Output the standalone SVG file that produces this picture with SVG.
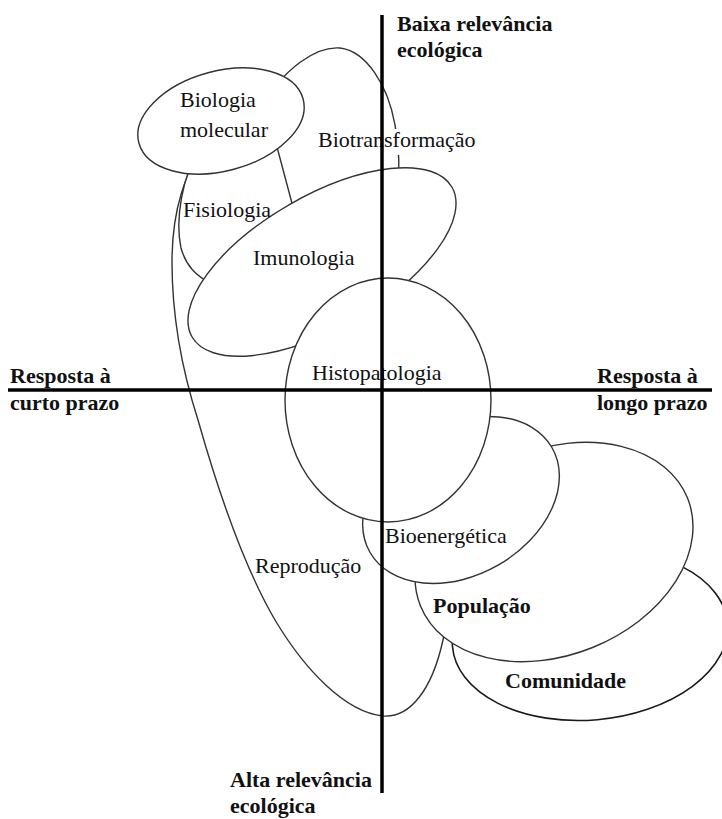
<svg xmlns="http://www.w3.org/2000/svg" width="722" height="819" viewBox="0 0 722 819">
<style>
.sh{fill:#fff;stroke:#333;stroke-width:1.4}
.dk{fill:#fff;stroke:#1a1a1a;stroke-width:1.6}
.t{font-family:"Liberation Serif","Times New Roman",serif;font-size:22px;fill:#111}
.b{font-family:"Liberation Serif","Times New Roman",serif;font-size:22px;font-weight:bold;fill:#111}
.ax{stroke:#000;stroke-width:3.5;fill:none}
</style>
<rect width="722" height="819" fill="#fff"/>
<g id="reproducao">
<path class="sh" d="M205,150 C186,168 172,210 172,262 C172,320 182,370 198,420 C215,480 240,560 275,620 C305,670 345,712 383,716 C410,718 432,690 443,640 C455,590 452,520 430,460 C400,370 300,200 205,150 Z"/>
</g>
<g id="comunidade">
<ellipse class="dk" cx="590" cy="635" rx="138" ry="85" transform="rotate(-5 590 635)"/>
</g>
<g id="biotransformacao">
<path class="sh" d="M255,115 C285,65 318,46 340,48 C366,51 388,85 395,125 C400,150 399,170 398,190 L330,230 L265,200 Z"/>
</g>
<g id="fisiologia">
<path class="sh" d="M200,150 C182,175 175,220 181,248 C186,266 196,276 212,284 L300,240 L293,207 L277,147 Z"/>
</g>
<g id="biologia-molecular">
<ellipse class="sh" cx="221" cy="121" rx="85" ry="50" transform="rotate(-15 221 121)"/>
</g>
<g id="imunologia">
<ellipse class="sh" cx="322" cy="262" rx="150" ry="66" transform="rotate(-30 322 262)"/>
</g>
<g id="populacao">
<ellipse class="sh" cx="554" cy="552" rx="144" ry="103" transform="rotate(-22 554 552)"/>
</g>
<g id="bioenergetica">
<ellipse class="sh" cx="461" cy="500" rx="105" ry="75" transform="rotate(-30 461 500)"/>
</g>
<g id="histopatologia">
<ellipse class="sh" cx="388" cy="400" rx="103" ry="122"/>
</g>
<g id="labels">
<text class="t" x="180" y="107">Biologia</text>
<text class="t" x="180" y="137">molecular</text>
<rect x="316" y="129" width="164" height="26" fill="#fff"/>
<text class="t" x="318" y="147">Biotransformação</text>
<text class="t" x="183" y="217">Fisiologia</text>
<text class="t" x="253" y="265">Imunologia</text>
<text class="t" x="312" y="380">Histopatologia</text>
<text class="t" x="385" y="543">Bioenergética</text>
<text class="t" x="255" y="573">Reprodução</text>
<text class="b" x="433" y="613">População</text>
<text class="b" x="505" y="688">Comunidade</text>
</g>
<g id="axes">
<line class="ax" x1="382" y1="15" x2="382" y2="793"/>
<line class="ax" x1="8" y1="390" x2="712" y2="390" stroke-width="3"/>
</g>
<g id="axis-labels">
<text class="b" x="397" y="31">Baixa relevância</text>
<text class="b" x="397" y="57">ecológica</text>
<text class="b" x="10" y="383">Resposta à</text>
<text class="b" x="10" y="410">curto prazo</text>
<text class="b" x="597" y="383">Resposta à</text>
<text class="b" x="597" y="410">longo prazo</text>
<text class="b" x="230" y="787">Alta relevância</text>
<text class="b" x="230" y="813">ecológica</text>
</g>
</svg>
